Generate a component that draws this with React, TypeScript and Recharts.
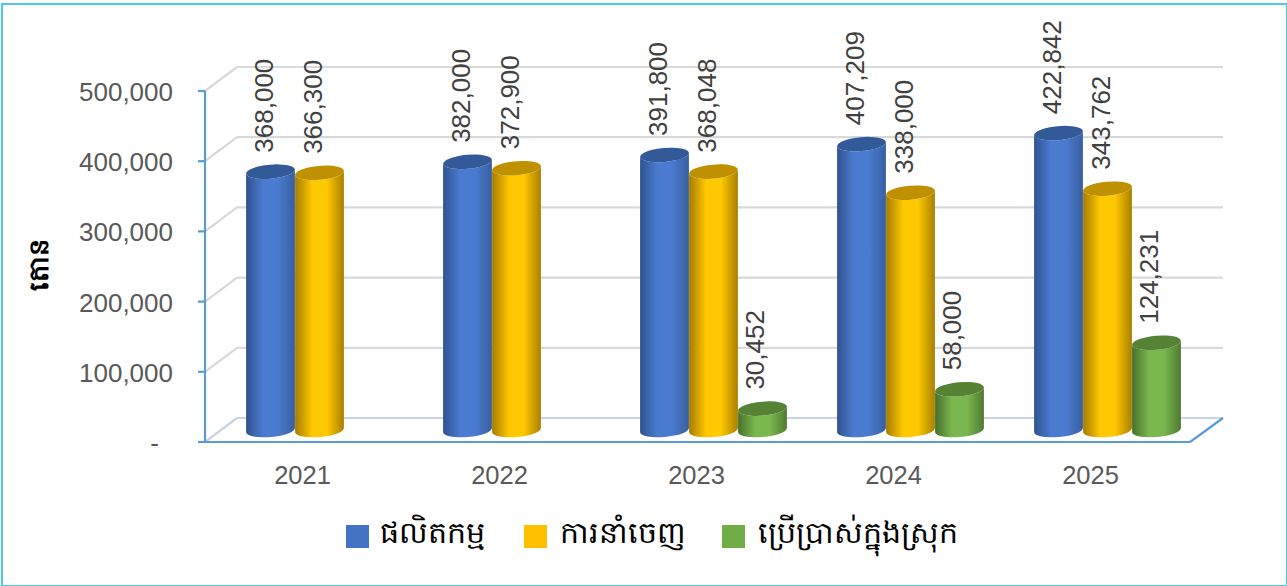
import React from "react";
import { BarChart, Bar, XAxis, YAxis, CartesianGrid, Legend, LabelList, Label } from "recharts";

const years = ["2021", "2022", "2023", "2024", "2025"];
const production = [368000, 382000, 391800, 407209, 422842];
const exportsOut = [366300, 372900, 368048, 338000, 343762];
const domestic = [null, null, 30452, 58000, 124231];
const yTicks = [0, 100000, 200000, 300000, 400000, 500000];

const seriesNames = ["ផលិតកម្ម", "ការនាំចេញ", "ប្រើប្រាស់ក្នុងស្រុក"];
const axisTitle = "តោន";

const data = years.map((year, i) => ({
  year,
  production: production[i],
  exportsOut: exportsOut[i],
  domestic: domestic[i],
}));

const FONT = '"Liberation Sans", Arial, sans-serif';
const KHMER_FONT = '"Noto Sans", "Liberation Sans", sans-serif';
const AXIS_BLUE = "#5B9BD5";
const DEPTH_X = 32;
const DEPTH_Y = 24;

const palette = {
  blue: { fill: "#4472C4", top: "#335A98", edge: "#2F5390", mid: "#4A7BD0", edge2: "#385F9F" },
  yellow: { fill: "#FFC000", top: "#BF9000", edge: "#A67C00", mid: "#FFC800", edge2: "#A98000" },
  green: { fill: "#70AD47", top: "#558235", edge: "#47702C", mid: "#7AB84F", edge2: "#4F7A32" },
};

function Cylinder(props: any) {
  const { x, y, width, height, tone } = props;
  if (!height || height <= 0) return null;
  const c = palette[tone as keyof typeof palette];
  const rx = width / 2;
  const ry = 7;
  const tilt = -5;
  const rad = (tilt * Math.PI) / 180;
  const dx = rx * Math.cos(rad);
  const dy = rx * Math.sin(rad);
  const cx = x + rx + DEPTH_X / 2;
  const top = y - DEPTH_Y / 2;
  const bottom = y + height - DEPTH_Y / 2;
  const body = `M${cx - dx} ${top - dy} L${cx - dx} ${bottom - dy} A${rx} ${ry} ${tilt} 0 0 ${cx + dx} ${bottom + dy} L${cx + dx} ${top + dy} A${rx} ${ry} ${tilt} 0 1 ${cx - dx} ${top - dy} Z`;
  return (
    <g>
      <path d={body} fill={`url(#cyl-${tone})`} />
      <ellipse cx={cx} cy={top} rx={rx} ry={ry} fill={c.top} transform={`rotate(${tilt} ${cx} ${top})`} />
    </g>
  );
}

function ValueLabel(props: any) {
  const { x, y, width, value, shift = 0 } = props;
  if (value == null) return null;
  const cx = x + width / 2 + DEPTH_X / 2 - 6 + shift;
  const cy = y - DEPTH_Y / 2 - 19;
  return (
    <text
      x={cx}
      y={cy}
      transform={`rotate(-90 ${cx} ${cy})`}
      dominantBaseline="central"
      fontFamily={FONT}
      fontSize={26}
      fill="#404040"
    >
      {Number(value).toLocaleString("en-US")}
    </text>
  );
}

function WallLine(props: any) {
  const { x1, y1, x2, y2 } = props;
  const isFloor = y1 > 430;
  const backY = y1 - DEPTH_Y;
  const wall = isFloor ? "#C9D3E3" : "#D9D9D9";
  return (
    <g fill="none" strokeWidth={2.2}>
      <line x1={x1} y1={y1} x2={x1 + DEPTH_X} y2={backY} stroke={wall} />
      <line x1={x1 + DEPTH_X} y1={backY} x2={x2 + 33} y2={backY} stroke={wall} />
      {isFloor && <line x1={x2} y1={y2} x2={x2 + 33} y2={backY} stroke={AXIS_BLUE} />}
    </g>
  );
}

function YTick(props: any) {
  const { x, y, payload } = props;
  const zero = payload.value === 0;
  return (
    <text x={zero ? x - 14 : x} y={y + 1} textAnchor="end" dominantBaseline="central" fontFamily={FONT} fontSize={26} fill="#595959">
      {zero ? "-" : Number(payload.value).toLocaleString("en-US")}
    </text>
  );
}

const legendLefts = [346, 524, 722];
const legendTextLefts = [380, 560, 758];

function ChartLegend(props: any) {
  const items = props.payload || [];
  return (
    <div style={{ position: "relative", width: 1287, height: 586 }}>
      {items.map((item: any, i: number) => (
        <React.Fragment key={item.value}>
          <div style={{ position: "absolute", left: legendLefts[i], top: 525, width: 23, height: 23, background: item.color }} />
          <div
            style={{
              position: "absolute",
              left: legendTextLefts[i],
              top: 511,
              fontFamily: KHMER_FONT,
              fontSize: 30,
              lineHeight: "42px",
              color: "#000",
              whiteSpace: "nowrap",
            }}
          >
            {item.value}
          </div>
        </React.Fragment>
      ))}
    </div>
  );
}

function gradient(id: string, c: { edge: string; mid: string; edge2: string }) {
  return (
    <linearGradient id={id} x1="0" y1="0" x2="1" y2="0">
      <stop offset="0%" stopColor={c.edge} />
      <stop offset="35%" stopColor={c.mid} />
      <stop offset="65%" stopColor={c.mid} />
      <stop offset="100%" stopColor={c.edge2} />
    </linearGradient>
  );
}

export default function App() {
  return (
    <div style={{ position: "absolute", left: 0, top: 0, width: 1287, height: 586, background: "#fff" }}>
      <div
        style={{
          position: "absolute",
          left: 1,
          top: 3,
          width: 1283,
          height: 580,
          border: "2px solid #4FC6EE",
        }}
      />
      <BarChart
        width={1287}
        height={586}
        data={data}
        margin={{ top: 91, right: 97, bottom: 114, left: 0 }}
        barSize={49}
        barGap={0}
        style={{ position: "absolute", left: 0, top: 0 }}
      >
        <defs>
          {gradient("cyl-blue", palette.blue)}
          {gradient("cyl-yellow", palette.yellow)}
          {gradient("cyl-green", palette.green)}
        </defs>
        <CartesianGrid vertical={false} horizontal={(p: any) => <WallLine key={p.key} {...p} />} />
        <XAxis
          dataKey="year"
          height={30}
          tickLine={false}
          axisLine={{ stroke: AXIS_BLUE, strokeWidth: 2.2 }}
          tick={{ fontFamily: FONT, fontSize: 25.5, fill: "#595959", dx: -1 }}
          tickMargin={18}
        />
        <YAxis
          width={205}
          domain={[0, 500000]}
          ticks={yTicks}
          tickSize={7}
          interval={0}
          tickLine={{ stroke: AXIS_BLUE, strokeWidth: 2.2 }}
          axisLine={{ stroke: AXIS_BLUE, strokeWidth: 2.2 }}
          tick={<YTick />}
          tickMargin={25}
        >
          <Label
            value={axisTitle}
            angle={-90}
            position="insideLeft"
            offset={0}
            dx={38}
            dy={-2}
            style={{ fontFamily: KHMER_FONT, fontSize: 27, fontWeight: 700, fill: "#000", textAnchor: "middle" }}
          />
        </YAxis>
        <Legend
          layout="horizontal"
          verticalAlign="middle"
          itemSorter={null}
          wrapperStyle={{ left: 0, top: 0, width: 1287, height: 586, pointerEvents: "none" }}
          content={<ChartLegend />}
        />
        <Bar dataKey="production" name={seriesNames[0]} fill={palette.blue.fill} isAnimationActive={false} shape={(p: any) => <Cylinder {...p} tone="blue" />}>
          <LabelList dataKey="production" content={<ValueLabel />} />
        </Bar>
        <Bar dataKey="exportsOut" name={seriesNames[1]} fill={palette.yellow.fill} isAnimationActive={false} shape={(p: any) => <Cylinder {...p} tone="yellow" />}>
          <LabelList dataKey="exportsOut" content={<ValueLabel />} />
        </Bar>
        <Bar dataKey="domestic" name={seriesNames[2]} fill={palette.green.fill} isAnimationActive={false} shape={(p: any) => <Cylinder {...p} tone="green" />}>
          <LabelList dataKey="domestic" content={<ValueLabel shift={-1} />} />
        </Bar>
      </BarChart>
    </div>
  );
}
